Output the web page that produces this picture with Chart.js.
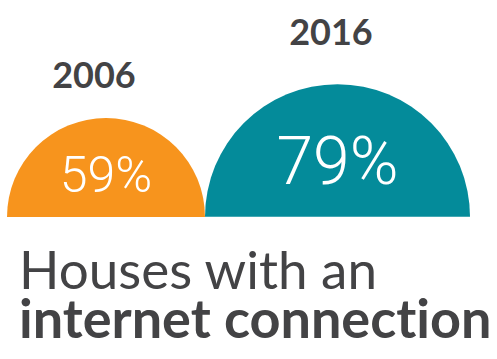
<!DOCTYPE html>
<html>
<head>
<meta charset="utf-8">
<script src="https://cdn.jsdelivr.net/npm/chart.js@4.4.0/dist/chart.umd.min.js"></script>
<style>
    body {
        margin: 0;
        width: 497px;
        height: 359px;
        background: #fff;
        overflow: hidden;
        position: relative;
        font-family: Lato, sans-serif;
        color: #434345;
        font-variant-ligatures: none;
    }
    #charts {
        position: absolute;
        left: 7px;
        top: 0;
        height: 217px;
        display: flex;
        align-items: flex-end;
    }
    #charts canvas {
        display: block;
    }
    .year {
        position: absolute;
        font-weight: 700;
        font-size: 36px;
        line-height: 1;
        transform: translateX(-50%);
        white-space: nowrap;
    }
    .title {
        position: absolute;
        left: 19px;
        line-height: 1;
        white-space: nowrap;
    }
</style>
</head>
<body>
<div id="charts"></div>
<div class="year" id="year0" style="left:94px; top:56px;"></div>
<div class="year" id="year1" style="left:331px; top:13px;"></div>
<div class="title" style="top:242px; font-size:53px; font-weight:400;">Houses with an</div>
<div class="title" style="top:291px; font-size:54px; font-weight:700;">internet connection</div>

<script>
    const years = ['2006', '2016'];
    const shares = [59, 79];
    const colors = ['#F7941D', '#048B9A'];

    // one percentage point of share = this many pixels of radius
    const pxPerPoint = 1.68;

    const pctLabel = {
        id: 'pctLabel',
        afterDatasetsDraw(chart) {
            const arc = chart.getDatasetMeta(0).data[0];
            const r = arc.outerRadius;
            const ctx = chart.ctx;
            ctx.save();
            ctx.fillStyle = '#ffffff';
            ctx.font = '300 ' + Math.round(r * 0.5) + 'px Roboto';
            ctx.textAlign = 'center';
            ctx.textBaseline = 'alphabetic';
            ctx.fillText(chart.data.datasets[0].data[0] + '%', arc.x, arc.y - r * 0.25);
            ctx.restore();
        }
    };

    const holder = document.getElementById('charts');

    years.forEach((year, i) => {
        const r = shares[i] * pxPerPoint;
        const canvas = document.createElement('canvas');
        canvas.width = Math.round(r * 2);
        canvas.height = Math.round(r);
        canvas.style.width = canvas.width + 'px';
        canvas.style.height = canvas.height + 'px';
        holder.appendChild(canvas);

        document.getElementById('year' + i).innerText = year;

        new Chart(canvas.getContext('2d'), {
            type: 'pie',
            data: {
                labels: [year],
                datasets: [{
                    data: [shares[i]],
                    backgroundColor: colors[i],
                    borderWidth: 0
                }]
            },
            options: {
                responsive: false,
                animation: false,
                events: [],
                circumference: 180,
                rotation: -90,
                plugins: {
                    legend: {display: false},
                    tooltip: {enabled: false}
                }
            },
            plugins: [pctLabel]
        });
    });
</script>
</body>
</html>
